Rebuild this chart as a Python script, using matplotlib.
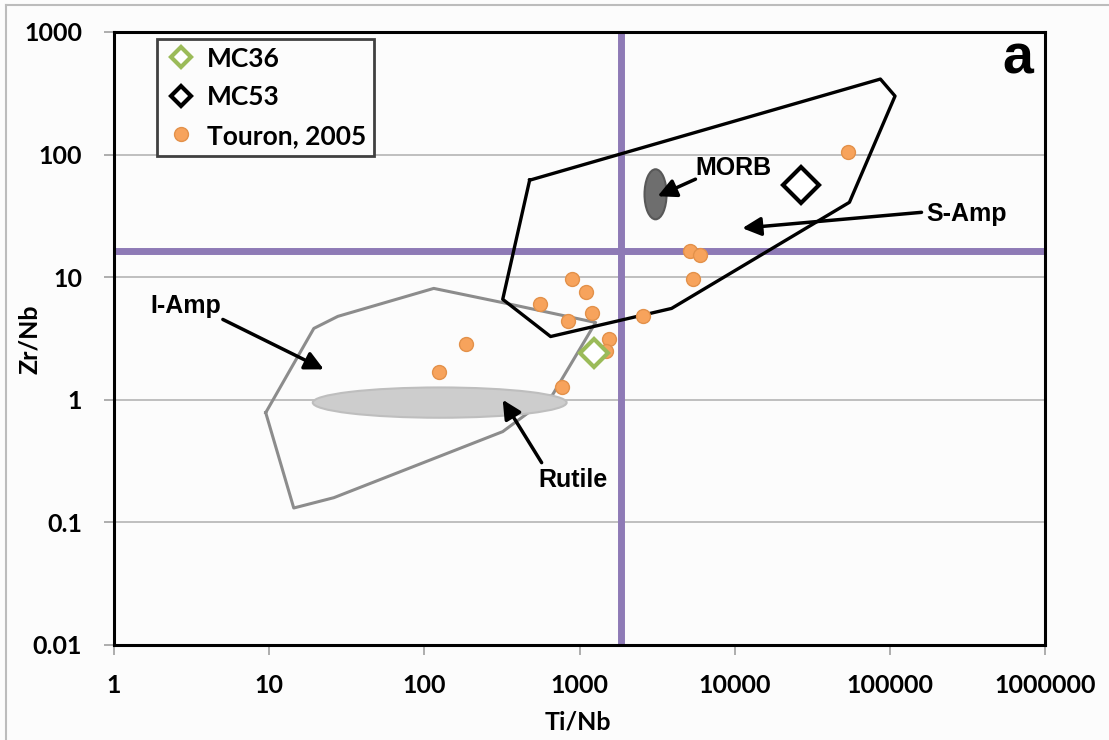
import numpy as np
import matplotlib
matplotlib.use('Agg')
import matplotlib.pyplot as plt
from matplotlib.patches import Ellipse
from matplotlib.lines import Line2D

# Touron, 2005 samples
touron_ti_nb = [54000, 5120, 6020, 5350, 889, 1094, 553, 1196, 838, 2548, 1540, 1472, 185, 124, 767]
touron_zr_nb = [104, 16.3, 15.1, 9.6, 9.6, 7.5, 6.0, 5.15, 4.35, 4.8, 3.16, 2.52, 2.83, 1.67, 1.28]

mc36_ti_nb = [1233]
mc36_zr_nb = [2.43]
mc53_ti_nb = [26900]
mc53_zr_nb = [56]

# fields
samp_ti_nb = [477, 86900, 108000, 54900, 3920, 651, 320, 477]
samp_zr_nb = [61.8, 413, 300, 40.8, 5.56, 3.28, 6.6, 61.8]
iamp_ti_nb = [9.5, 19.4, 27.7, 115, 320, 1270, 671, 320, 26.1, 14.4, 9.5]
iamp_zr_nb = [0.785, 3.82, 4.79, 8.1, 6.2, 4.27, 1.10, 0.55, 0.159, 0.131, 0.785]

# ellipses: centre (log10 Ti/Nb, log10 Zr/Nb), full width/height in decades
rutile_c = (2.099, -0.023)
rutile_wh = (1.636, 0.247)
morb_c = (3.490, 1.676)
morb_wh = (0.142, 0.408)

ti_nb_limit = 1840
zr_nb_limit = 16.3

x_ticks = [1, 10, 100, 1000, 10000, 100000, 1000000]
y_ticks = [0.01, 0.1, 1, 10, 100, 1000]

bg = '#fcfcfc'
fig = plt.figure(figsize=(11.09, 7.40), dpi=100, facecolor=bg)
ax = fig.add_axes([0.1028, 0.1284, 0.8395, 0.8284], facecolor=bg)
ax.set_xscale('log')
ax.set_yscale('log')
ax.set_xlim(1, 1e6)
ax.set_ylim(0.01, 1000)

for yt in y_ticks[1:-1]:
    ax.axhline(yt, color='#b4b4b4', lw=1.2, zorder=1)

ax.axvline(ti_nb_limit, color='#8e7ab6', lw=5, zorder=1.5)
ax.axhline(zr_nb_limit, color='#8e7ab6', lw=5, zorder=1.5)

ax.plot(iamp_ti_nb, iamp_zr_nb, color='#8c8c8c', lw=2.2, zorder=2)
ax.plot(samp_ti_nb, samp_zr_nb, color='black', lw=2.4, zorder=2.2)


def log_ellipse(c, wh, fc, ec):
    cx = c[0] / 6.0
    cy = (c[1] + 2) / 5.0
    return Ellipse((cx, cy), wh[0] / 6.0, wh[1] / 5.0, transform=ax.transAxes,
                   facecolor=fc, edgecolor=ec, lw=1.5, zorder=3)


ax.add_patch(log_ellipse(rutile_c, rutile_wh, '#cdcdcd', '#bebebe'))
ax.add_patch(log_ellipse(morb_c, morb_wh, '#6e6e6e', '#585858'))

ax.plot(touron_ti_nb, touron_zr_nb, 'o', ms=10, mfc='#f7a35c', mec='#e3914a', mew=1, zorder=4)
ax.plot(mc36_ti_nb, mc36_zr_nb, 'D', ms=14, mfc='white', mec='#9bbb59', mew=3, zorder=5)
ax.plot(mc53_ti_nb, mc53_zr_nb, 'D', ms=18, mfc='white', mec='black', mew=3, zorder=5)

# annotations
afont = dict(family='Liberation Sans', weight='bold', size=18)
arw = dict(arrowstyle='-|>', lw=2.5, color='black', mutation_scale=28, shrinkA=0, shrinkB=0)
ax.text(2.91, 5.77, 'I-Amp', ha='center', va='center', **afont)
ax.annotate('', xy=(22.5, 1.77), xytext=(5.03, 4.52), arrowprops=arw, zorder=6)
ax.text(903, 0.223, 'Rutile', ha='center', va='center', **afont)
ax.annotate('', xy=(320, 1.0), xytext=(570, 0.307), arrowprops=arw, zorder=6)
ax.text(9820, 77.4, 'MORB', ha='center', va='center', **afont)
ax.annotate('', xy=(3185, 45.7), xytext=(5590, 63), arrowprops=arw, zorder=6)
ax.text(310000, 32.6, 'S-Amp', ha='center', va='center', **afont)
ax.annotate('', xy=(11200, 25.1), xytext=(160000, 33.8), arrowprops=arw, zorder=6)

ax.text(0.987, 0.9315, 'a', transform=ax.transAxes, ha='right', va='baseline',
        family='Liberation Sans', weight='bold', size=40)

# axes styling
for s in ax.spines.values():
    s.set_linewidth(2.2)
    s.set_color('black')
ax.set_xticks(x_ticks)
ax.set_xticklabels([str(v) for v in x_ticks])
ax.set_yticks(y_ticks)
ax.set_yticklabels(['0.01', '0.1', '1', '10', '100', '1000'])
ax.minorticks_off()
ax.tick_params(axis='both', direction='out', length=7, width=1.2, color='#a0a0a0',
               labelsize=18)
ax.tick_params(axis='x', pad=14)
ax.tick_params(axis='y', pad=16)
for lab in ax.get_xticklabels() + ax.get_yticklabels():
    lab.set_fontfamily('Lato')
    lab.set_fontweight('bold')

ax.set_xlabel('Ti/Nb', family='Lato', weight='bold', size=18)
ax.set_ylabel('Zr/Nb', family='Lato', weight='bold', size=18)
ax.xaxis.set_label_coords(0.498, -0.1256)
ax.yaxis.set_label_coords(-0.0913, 0.499)
ax.xaxis.label.set_va('center')
ax.yaxis.label.set_va('center')

handles = [
    Line2D([], [], ls='none', marker='D', ms=10, mfc='white', mec='#9bbb59', mew=3, label='MC36'),
    Line2D([], [], ls='none', marker='D', ms=10, mfc='white', mec='black', mew=3, label='MC53'),
    Line2D([], [], ls='none', marker='o', ms=10, mfc='#f7a35c', mec='#e3914a', label='Touron, 2005'),
]
leg = ax.legend(handles=handles, loc='upper left', bbox_to_anchor=(0.046, 0.989),
                prop=dict(family='Lato', weight='bold', size=19), frameon=True,
                fancybox=False, edgecolor='#404040', facecolor=bg, framealpha=1,
                borderpad=0.3, labelspacing=0.55, handletextpad=0.4, handlelength=1.2,
                borderaxespad=0)
leg.get_frame().set_linewidth(2)
leg.set_zorder(10)

# outer frame of the picture
fig.add_artist(Line2D([0.0054, 1.0], [0.9932, 0.9932], transform=fig.transFigure,
                      color='#bcbcbc', lw=1.5))
fig.add_artist(Line2D([0.0054, 0.0054], [0.0, 0.9932], transform=fig.transFigure,
                      color='#bcbcbc', lw=1.5))

fig.savefig('out.png', dpi=100, facecolor=bg)
